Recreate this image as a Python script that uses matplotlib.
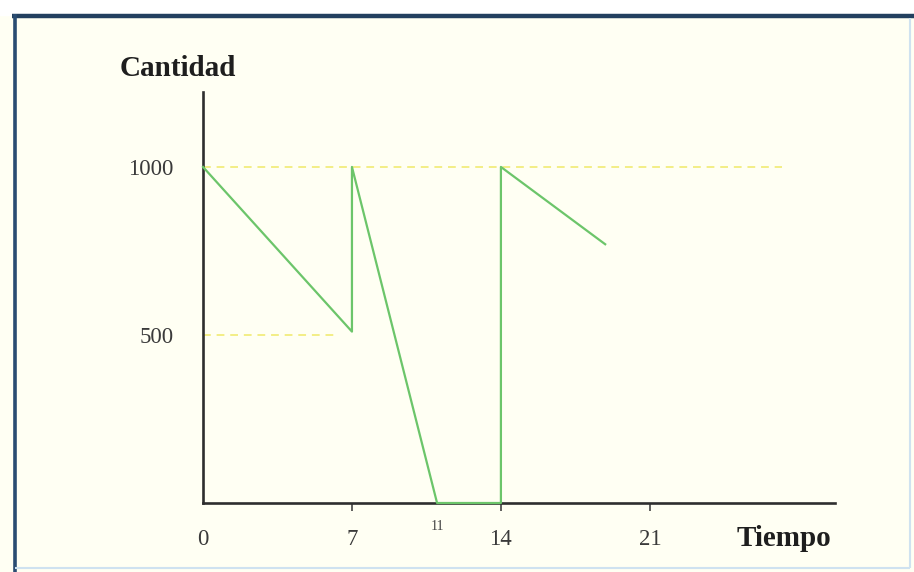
import matplotlib.pyplot as plt
from matplotlib.lines import Line2D

# inventory level over time
tiempo = [0, 7, 7, 11, 14, 14, 18.9]
cantidad = [1000, 510, 1000, 0, 0, 1000, 770]

# dashed reference levels: (level, x end)
ref_levels = [1000, 500]
ref_ends = [27.2, 6.3]

tick_pos = [0, 7, 14, 21]
tick_lab = ['0', '7', '14', '21']
y_pos = [500, 1000]
y_lab = ['500', '1000']

W, H = 914, 572
bg = '#fffff3'
fig = plt.figure(figsize=(W / 100, H / 100), dpi=100, facecolor=bg)

# axes placed so that (0,0) lands on the drawn origin
x0, y0, x1, y1 = 203, 503, 835, 92
ax = fig.add_axes([x0 / W, (H - y0) / H, (x1 - x0) / W, (y0 - y1) / H])
ax.set_facecolor(bg)
ax.set_xlim(0, 29.7)
ax.set_ylim(0, 1223)

for lvl, xe in zip(ref_levels, ref_ends):
    ax.plot([0, xe], [lvl, lvl], color='#f3ee86', lw=1.4, ls=(0, (4, 3)), zorder=2)

ax.plot(tiempo, cantidad, color='#6cc56a', lw=1.6, zorder=3, clip_on=False)

for s in ['top', 'right']:
    ax.spines[s].set_visible(False)
for s in ['left', 'bottom']:
    ax.spines[s].set_color('#2e2e2e')
    ax.spines[s].set_linewidth(1.9)

serif = ['Liberation Serif', 'DejaVu Serif']
ax.set_xticks(tick_pos)
ax.set_xticklabels(tick_lab, family=serif, fontsize=16.5, color='#3a3a3a')
ax.set_yticks(y_pos)
ax.set_yticklabels(y_lab, family=serif, fontsize=16.5, color='#3a3a3a')
ax.tick_params(axis='x', length=6, width=1.2, color='#444444', pad=13, direction='out')
ax.tick_params(axis='y', length=0, pad=21)
ax.xaxis.get_major_ticks()[0].tick1line.set_visible(False)

# small "11" label below the axis
ax.text(11, -70, '11', family=serif, fontsize=10, color='#444444', ha='center', va='center')

fig.text(178 / W, 1 - 68 / H, 'Cantidad', family=serif, fontsize=21, fontweight='bold',
         color='#1e1e1e', ha='center', va='center')
fig.text(784 / W, 1 - 539 / H, 'Tiempo', family=serif, fontsize=21, fontweight='bold',
         color='#1e1e1e', ha='center', va='center')

# blue frame around the figure
def frame_line(xs, ys, c, lw):
    fig.add_artist(Line2D([x / W for x in xs], [1 - y / H for y in ys], color=c, lw=lw,
                          solid_capstyle='butt'))

fig.patches.append(plt.Rectangle((0, 1 - 15 / H), 1, 15 / H, transform=fig.transFigure,
                                 color='white', zorder=0))
frame_line([12, W], [16, 16], '#23405f', 3.2)
frame_line([15, 15], [14, H], '#2a4c72', 2.6)
frame_line([910, 910], [18, 568], '#cfe2f0', 1.5)
frame_line([15, 910], [568, 568], '#cfe2f0', 1.5)

fig.savefig('out.png', dpi=100, facecolor=bg)
